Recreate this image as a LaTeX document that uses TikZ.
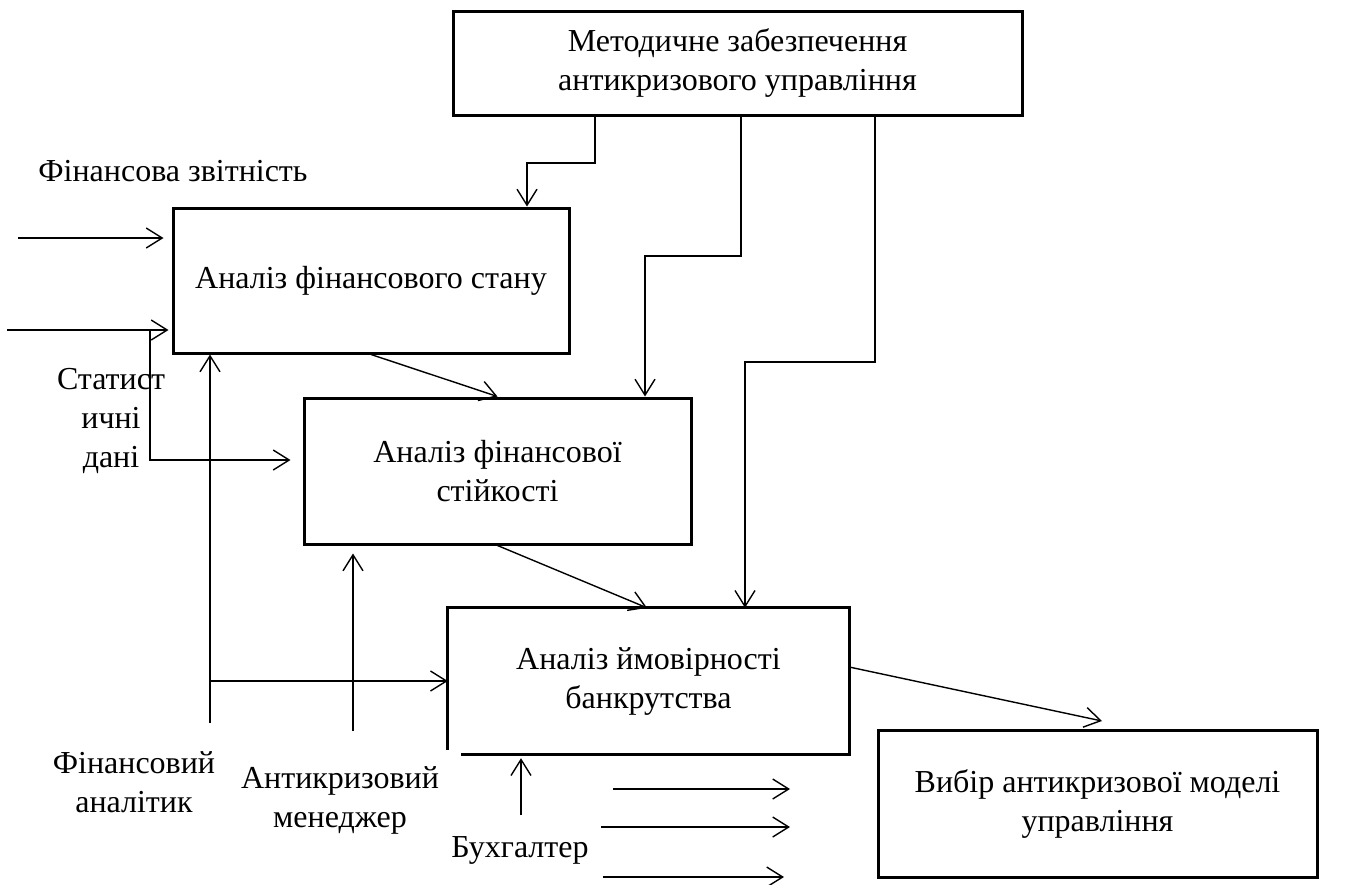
\documentclass[tikz,border=0pt]{standalone}
\usepackage{fontspec}
\setmainfont{Liberation Serif}
\usetikzlibrary{arrows.meta}
\begin{document}
\begin{tikzpicture}[x=1pt,y=-1pt,
  every node/.style={font=\fontsize{32}{39}\selectfont, align=center, inner sep=0pt},
  boxnode/.style={draw, line width=3pt, rectangle},
  arr/.style={line width=1.4pt, -{Straight Barb[length=16pt,width=20pt]}},
  plainline/.style={line width=1.4pt}]
\useasboundingbox (0,0) rectangle (1352,884);
% boxes
\node[boxnode, minimum width=569pt, minimum height=104pt] (top) at (737.5,63) {Методичне забезпечення\\антикризового управління};
\node[boxnode, minimum width=396pt, minimum height=145pt] (b1) at (371,280.5) {Аналіз фінансового стану};
\node[boxnode, minimum width=387pt, minimum height=146pt] (b2) at (497.5,471) {Аналіз фінансової\\стійкості};
\node[minimum width=401pt, minimum height=146pt] (b3) at (648.5,681) {Аналіз ймовірності\\банкрутства};
\draw[line width=3pt] ([yshift=4pt]b3.south west) -- (b3.north west) -- (b3.north east) -- (b3.south east) -- ([xshift=13pt]b3.south west);
\node[boxnode, minimum width=439pt, minimum height=147pt] (b4) at (1097.5,803.5) {Вибір антикризової моделі\\управління};
% labels
\node (lfz) at (173,171) {Фінансова звітність};
\node (lsd) at (111,421) {Статист\\ичні\\дані};
\node (lfa) at (134,782) {Фінансовий\\аналітик};
\node (lam) at (340,800) {Антикризовий\\менеджер};
\node (lbh) at (520,850) {Бухгалтер};
% control arrows from top
\coordinate (m1) at (595,163); \coordinate (m1b) at (527,163);
\draw[arr] (top.south -| m1) -- (m1) -- (m1b) -- (b1.north -| m1b);
\coordinate (m2) at (741,256); \coordinate (m2b) at (645,256);
\draw[arr] (top.south -| m2) -- (m2) -- (m2b) -- (b2.north -| m2b);
\coordinate (m3) at (875,362); \coordinate (m3b) at (745,362);
\draw[arr] (top.south -| m3) -- (m3) -- (m3b) -- (b3.north -| m3b);
% inputs
\coordinate (s1) at (18,238);
\draw[arr, shorten >=8pt] (s1) -- (b1.west |- s1);
\coordinate (s2) at (7,330);
\draw[arr, shorten >=3pt] (s2) -- (b1.west |- s2);
\coordinate (j1) at (150,330); \coordinate (j2) at (150,460);
\draw[arr, shorten >=12pt] (j1) -- (j2) -- (b2.west |- j2);
% mechanisms
\coordinate (fa) at (210,723);
\draw[arr] (fa) -- (b1.south -| fa);
\coordinate (fa2) at (210,681);
\draw[arr] (fa2) -- (b3.west |- fa2);
\coordinate (am) at (353,731);
\draw[arr, shorten >=8pt] (am) -- (b2.south -| am);
\coordinate (bh) at (521,815);
\draw[arr, shorten >=4pt] (bh) -- (b3.south -| bh);
% flow
\draw[arr] (b1.south) -- (b2.north);
\coordinate (x647) at (647,0);
\draw[arr] (b2.south) -- (b3.north -| x647);
\coordinate (y667) at (0,667); \coordinate (e4) at (1102,721);
\draw[arr] (b3.east |- y667) -- (e4);
% outputs
\coordinate (o1a) at (613,789); \coordinate (o1b) at (790,789);
\coordinate (o2a) at (601,827); \coordinate (o2b) at (790,827);
\coordinate (o3a) at (603,877); \coordinate (o3b) at (784,877);
\draw[arr] (o1a) -- (o1b);
\draw[arr] (o2a) -- (o2b);
\draw[arr] (o3a) -- (o3b);
\end{tikzpicture}
\end{document}
